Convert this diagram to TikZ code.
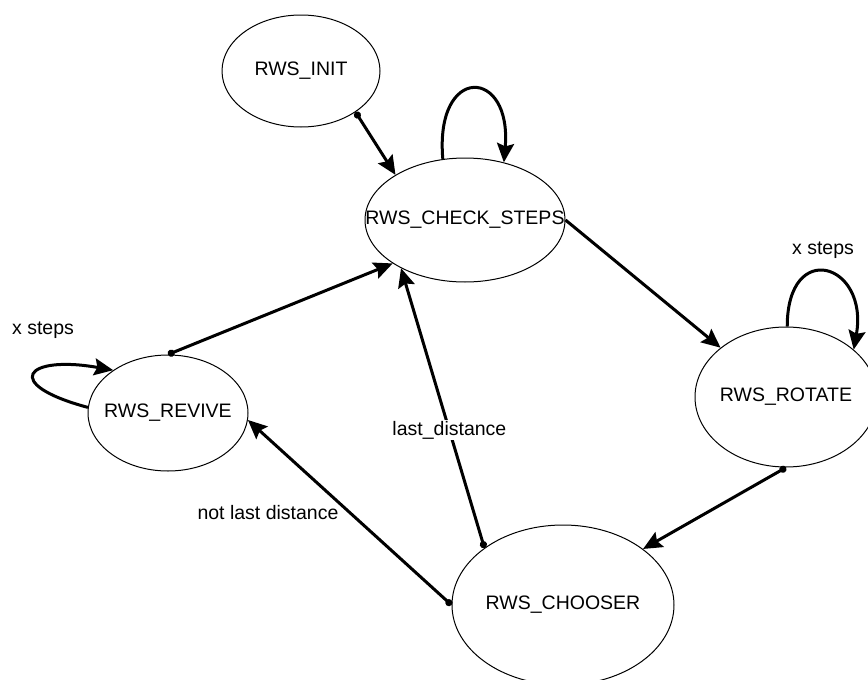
\documentclass[tikz,border=0pt]{standalone}
\usepackage{fontspec}
\setmainfont{Liberation Sans}
\usetikzlibrary{shapes.geometric,arrows.meta}

\begin{document}
\begin{tikzpicture}[x=1pt,y=-1pt,font=\fontsize{19.5}{23}\selectfont]

      \useasboundingbox (0,0) rectangle (868,680);
      \clip (0,0) rectangle (868,680);

      \begin{scope}[every node/.style={ellipse,draw,line width=1pt,inner sep=0pt}]
        \node[minimum width=158pt,minimum height=112pt] (init)    at (301,71)  {\makebox[0pt]{RWS\_INIT}};
        \node[minimum width=200pt,minimum height=124pt] (check)   at (465,220) {\makebox[0pt]{RWS\_CHECK\_STEPS}};
        \node[minimum width=182pt,minimum height=140pt] (rotate)  at (786,397) {\makebox[0pt]{RWS\_ROTATE}};
        \node[minimum width=160pt,minimum height=116pt] (revive)  at (168,413) {\makebox[0pt]{RWS\_REVIVE}};
        \node[minimum width=222pt,minimum height=160pt] (chooser) at (563,605) {\makebox[0pt]{RWS\_CHOOSER}};
      \end{scope}

      \begin{scope}[every node/.style={inner sep=1pt}]
        \node (xrevive) at (43,330)  {x steps};
        \node (xrotate) at (823,250) {x steps};
        \node (notlast) at (268,513) {not last distance};
      \end{scope}

      \begin{scope}[every edge/.style={draw,line width=3pt,-{Stealth[length=19pt,width=17pt,inset=3pt]}},
                    dotstart/.style={{Circle[length=7pt]}-{Stealth[length=19pt,width=17pt,inset=3pt]}}]
        \path (init.323)    edge[dotstart] (check.147);
        \path (check.110)   edge[out=95,in=85,looseness=4] (check.56);
        \path (check.east)  edge (rotate.143);
        \path (rotate.89)   edge[out=90,in=80,looseness=3.2] (rotate.35);
        \path (rotate.south) edge[dotstart] (chooser.35);
        \path (chooser.144) edge[dotstart] node[fill=white,pos=0.42,inner sep=1pt] {last\_distance} (check.217);
        \path (chooser.west) edge[dotstart] (revive.-5);
        \path (revive.north) edge[dotstart] (check.211);
        \path (revive.176)  edge[out=165,in=170,looseness=5.1] (revive.142);
      \end{scope}

    \end{tikzpicture}
\end{document}
